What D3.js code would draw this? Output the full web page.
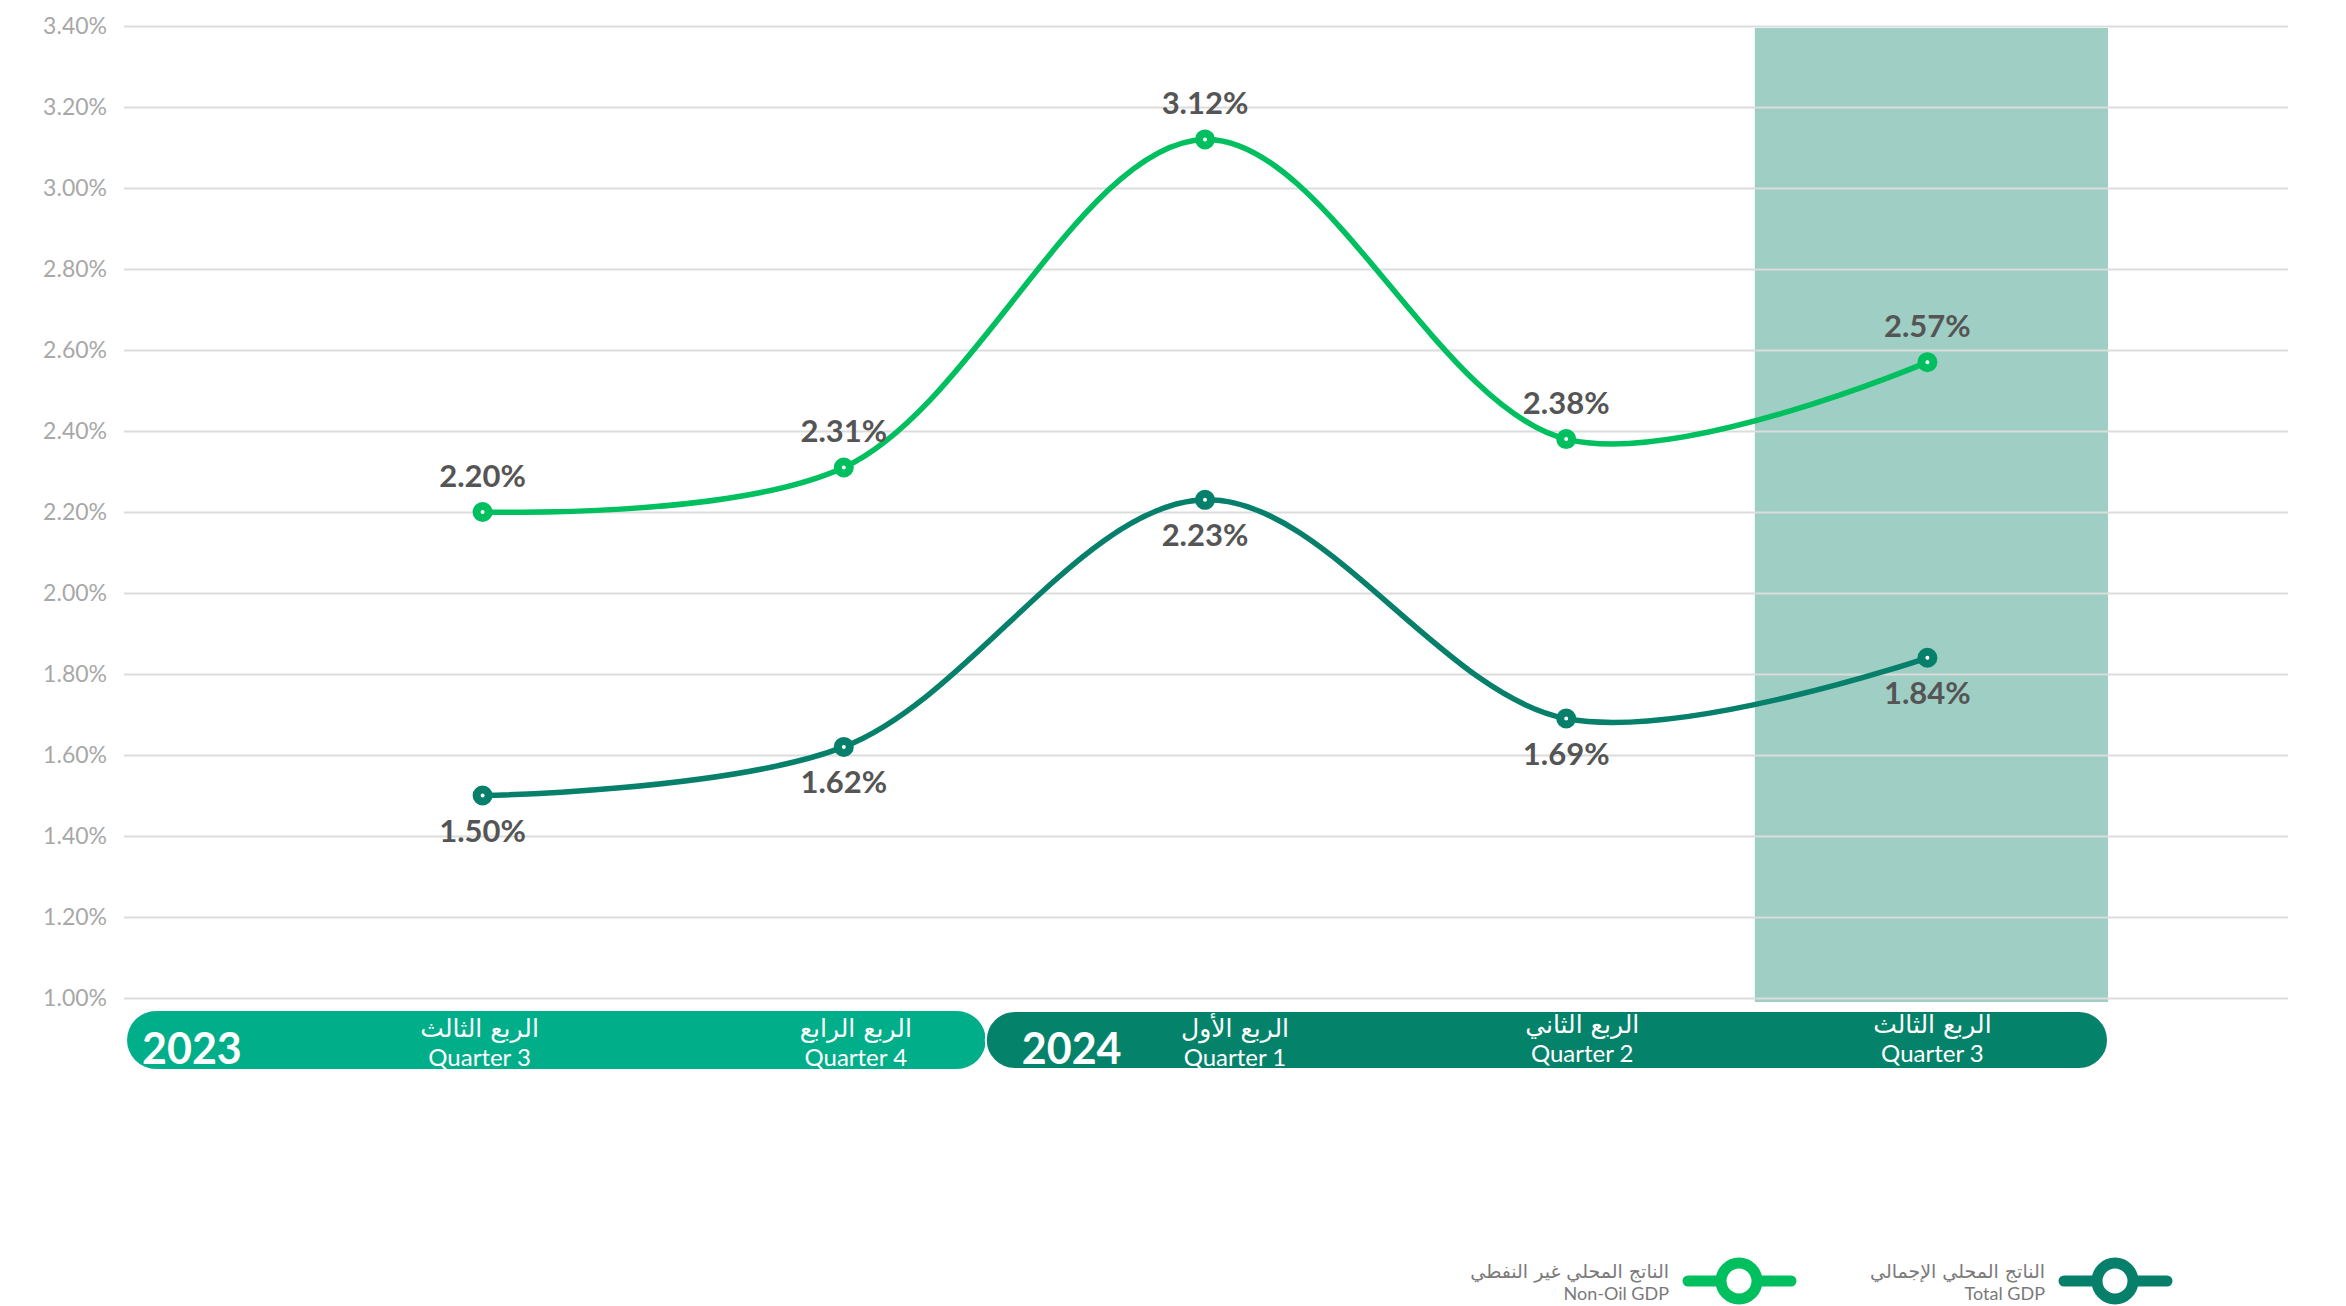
<!DOCTYPE html>
<html>
<head>
<meta charset="utf-8">
<script src="https://cdn.jsdelivr.net/npm/d3@7"></script>
<style>
  body { margin: 0; background: #fff; }
  svg { display: block; font-family: Lato, "DejaVu Sans", sans-serif; }
</style>
</head>
<body>
<div id="chart"></div>
<script>
// quarters along the x axis
var quarters   = ['2023-Q3', '2023-Q4', '2024-Q1', '2024-Q2', '2024-Q3'];
var quarterAr  = ['الربع الثالث', 'الربع الرابع', 'الربع الأول', 'الربع الثاني', 'الربع الثالث'];
var quarterEn  = ['Quarter 3', 'Quarter 4', 'Quarter 1', 'Quarter 2', 'Quarter 3'];

// growth, %
var nonOilGdp  = [2.20, 2.31, 3.12, 2.38, 2.57];
var totalGdp   = [1.50, 1.62, 2.23, 1.69, 1.84];

var yTicks     = [1.0, 1.2, 1.4, 1.6, 1.8, 2.0, 2.2, 2.4, 2.6, 2.8, 3.0, 3.2, 3.4];

var years      = ['2023', '2024'];

var highlightQ = '2024-Q3';

var seriesNames = [
  { ar: 'الناتج المحلي غير النفطي', en: 'Non-Oil GDP' },
  { ar: 'الناتج المحلي الإجمالي', en: 'Total GDP' }
];

// ---------------------------------------------------------------
var width = 2346, height = 1306;
var plotLeft = 124, plotRight = 2288;
var colNonOil = '#00bf5f', colTotal = '#06806a';
var colPill = ['#00ae8a', '#05826a'];

var svg = d3.select('#chart').append('svg')
    .attr('width', width)
    .attr('height', height);

var x = d3.scaleBand()
    .domain(quarters)
    .range([302, 2108])
    .padding(0);
var xc = function (q) { return x(q) + x.bandwidth() / 2; };

var y = d3.scaleLinear()
    .domain([1.0, 3.4])
    .range([998, 26]);

// highlighted quarter
svg.append('rect')
    .attr('x', x(highlightQ) + 8)
    .attr('width', x.bandwidth() - 8)
    .attr('y', y(3.4) + 2)
    .attr('height', y(1.0) - y(3.4) + 2)
    .attr('fill', '#9fcfc4');

// y axis + grid
var yAxis = svg.append('g')
    .attr('transform', 'translate(' + plotLeft + ',0)')
    .call(d3.axisLeft(y)
      .tickValues(yTicks)
      .tickSize(-(plotRight - plotLeft))
      .tickPadding(17)
      .tickFormat(function (d) { return d.toFixed(2) + '%'; }));

yAxis.select('.domain').remove();
yAxis.selectAll('.tick line')
    .attr('stroke', '#dcdcdc')
    .attr('stroke-width', 2);
yAxis.selectAll('.tick text')
    .attr('fill', '#a8a8a8')
    .attr('font-size', 23)
    .attr('font-family', 'Lato, sans-serif');

// year pills
var pillY = 1011, pillH = 58;
var pillStart = [plotLeft + 3, xc(quarters[1]) + 142];
var pillEnd   = [xc(quarters[1]) + 142, x(quarters[4]) + x.bandwidth()];

years.forEach(function (yr, i) {
  svg.append('rect')
      .attr('x', pillStart[i])
      .attr('y', pillY)
      .attr('width', pillEnd[i] - pillStart[i])
      .attr('height', pillH)
      .attr('rx', pillH / 2)
      .attr('fill', colPill[i])
      .attr('stroke', i ? '#fff' : 'none')
      .attr('stroke-width', 2);
  svg.append('text')
      .attr('x', pillStart[i] + (i ? 36 : 15))
      .attr('y', pillY + 53)
      .attr('fill', '#fff')
      .attr('font-size', 43)
      .attr('font-weight', 700)
      .attr('font-family', 'Lato, sans-serif')
      .text(yr);
});

// quarter labels
var qLabels = svg.append('g').selectAll('g')
    .data(quarters)
    .enter()
    .append('g')
    .attr('transform', function (d, i) {
      var nudge = [-3, 12, 30, 16, 5][i];
      var up = (i >= 3) ? -4 : 0;
      return 'translate(' + (xc(d) + nudge) + ',' + up + ')';
    });

qLabels.append('text')
    .attr('y', 1037)
    .attr('text-anchor', 'middle')
    .attr('fill', '#fff')
    .attr('font-size', 25)
    .attr('font-family', '"DejaVu Sans", sans-serif')
    .text(function (d, i) { return quarterAr[i]; });

qLabels.append('text')
    .attr('y', 1066)
    .attr('text-anchor', 'middle')
    .attr('fill', '#fff')
    .attr('font-size', 24)
    .attr('font-family', 'Lato, sans-serif')
    .text(function (d, i) { return quarterEn[i]; });

// lines
var line = d3.line()
    .x(function (d, i) { return xc(quarters[i]); })
    .y(function (d) { return y(d); })
    .curve(d3.curveCatmullRom.alpha(0.5));

function drawSeries(values, color, labelBelow) {
  var g = svg.append('g');
  g.append('path')
      .datum(values)
      .attr('d', line)
      .attr('fill', 'none')
      .attr('stroke', color)
      .attr('stroke-width', 5.5);

  g.selectAll('circle')
      .data(values)
      .enter()
      .append('circle')
      .attr('cx', function (d, i) { return xc(quarters[i]); })
      .attr('cy', function (d) { return y(d); })
      .attr('r', 6)
      .attr('fill', '#fff')
      .attr('stroke', color)
      .attr('stroke-width', 8);

  g.selectAll('text')
      .data(values)
      .enter()
      .append('text')
      .attr('x', function (d, i) { return xc(quarters[i]); })
      .attr('y', function (d) { return y(d) + (labelBelow ? 46 : -25); })
      .attr('text-anchor', 'middle')
      .attr('fill', '#555')
      .attr('font-size', 31)
      .attr('font-weight', 700)
      .attr('font-family', 'Lato, sans-serif')
      .text(function (d) { return d.toFixed(2) + '%'; });
}

drawSeries(totalGdp, colTotal, true);
drawSeries(nonOilGdp, colNonOil, false);

// legend
var legendX = [1739, 2115];
var legendColors = [colNonOil, colTotal];

seriesNames.forEach(function (s, i) {
  var cx = legendX[i], cy = 1281;
  var g = svg.append('g');
  g.append('line')
      .attr('x1', cx - 51).attr('x2', cx + 52)
      .attr('y1', cy).attr('y2', cy)
      .attr('stroke', legendColors[i])
      .attr('stroke-width', 11)
      .attr('stroke-linecap', 'round');
  g.append('circle')
      .attr('cx', cx).attr('cy', cy)
      .attr('r', 18)
      .attr('fill', '#fff')
      .attr('stroke', legendColors[i])
      .attr('stroke-width', 11);
  g.append('text')
      .attr('x', cx - 70)
      .attr('y', cy - 3)
      .attr('text-anchor', 'end')
      .attr('fill', '#7a7a7a')
      .attr('font-size', 19)
      .attr('font-family', '"DejaVu Sans", sans-serif')
      .text(s.ar);
  g.append('text')
      .attr('x', cx - 70)
      .attr('y', cy + 19)
      .attr('text-anchor', 'end')
      .attr('fill', '#7a7a7a')
      .attr('font-size', 18)
      .attr('font-family', 'Lato, sans-serif')
      .text(s.en);
});
</script>
</body>
</html>
